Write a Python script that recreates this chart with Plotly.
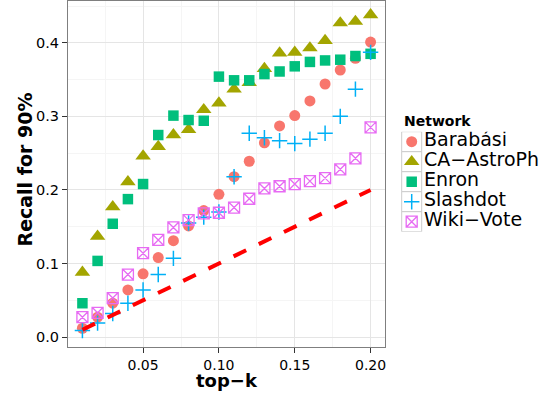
import plotly.graph_objects as go

# ---------------- data ----------------
top_k = [0.01, 0.02, 0.03, 0.04, 0.05, 0.06, 0.07, 0.08, 0.09, 0.10,
         0.11, 0.12, 0.13, 0.14, 0.15, 0.16, 0.17, 0.18, 0.19, 0.20]

barabasi = [0.012, 0.027, 0.046, 0.064, 0.086, 0.108, 0.131, 0.151, 0.172, 0.194,
            0.218, 0.239, 0.264, 0.287, 0.301, 0.321, 0.344, 0.363, 0.379, 0.401]
ca_astroph = [0.088, 0.137, 0.177, 0.211, 0.246, 0.259, 0.275, 0.282, 0.309, 0.318,
              0.337, 0.346, 0.365, 0.386, 0.387, 0.393, 0.403, 0.427, 0.429, 0.438]
enron = [0.046, 0.1035, 0.154, 0.1875, 0.208, 0.2746, 0.301, 0.295, 0.294, 0.354,
         0.349, 0.349, 0.3575, 0.361, 0.368, 0.374, 0.376, 0.377, 0.382, 0.385]
slashdot = [0.009, 0.019, 0.032, 0.046, 0.064, 0.085, 0.107, 0.155, 0.163, 0.170,
            0.218, 0.277, 0.271, 0.267, 0.263, 0.269, 0.277, 0.300, 0.337, 0.387]
wiki_vote = [0.027, 0.033, 0.053, 0.085, 0.114, 0.132, 0.149, 0.159, 0.168, 0.169,
             0.176, 0.188, 0.202, 0.205, 0.208, 0.212, 0.216, 0.228, 0.243, 0.285]

baseline_x = [0.01, 0.20]
baseline_y = [0.01, 0.20]

network_names = ["Barabási", "CA\u2212AstroPh", "Enron", "Slashdot", "Wiki\u2212Vote"]
series_values = [barabasi, ca_astroph, enron, slashdot, wiki_vote]

x_tick_vals = [0.05, 0.10, 0.15, 0.20]
x_tick_text = ["0.05", "0.10", "0.15", "0.20"]
y_tick_vals = [0.0, 0.1, 0.2, 0.3, 0.4]
y_tick_text = ["0.0", "0.1", "0.2", "0.3", "0.4"]
x_minor_vals = [0.025, 0.075, 0.125, 0.175]
y_minor_vals = [0.05, 0.15, 0.25, 0.35, 0.45]

# ---------------- styles ----------------
marker_styles = [
    dict(symbol="circle", size=11, color="#F8766D", line=dict(width=0)),
    dict(symbol="triangle-up", size=13.5, color="#A3A500", line=dict(width=0)),
    dict(symbol="square", size=10.5, color="#00BF7D", line=dict(width=0)),
    dict(symbol="cross-thin-open", size=11, color="#00B0F6", line=dict(width=1.5, color="#00B0F6")),
    dict(symbol="square-x-open", size=11, color="#E76BF3", line=dict(width=1.3, color="#E76BF3")),
]

FONT = "DejaVu Sans"

fig = go.Figure()

for name, vals, ms in zip(network_names, series_values, marker_styles):
    fig.add_trace(go.Scatter(x=top_k, y=vals, mode="markers", name=name,
                             marker=ms, showlegend=False))

fig.add_trace(go.Scatter(x=baseline_x, y=baseline_y, mode="lines",
                         line=dict(color="#FF0000", width=4, dash="14px,14px"),
                         showlegend=False))

# ---------------- custom legend (on an auxiliary axis) ----------------
fig.add_trace(go.Scatter(x=[11.7] * len(network_names), y=network_names, mode="markers",
                         marker=dict(symbol="square", size=20, color="white",
                                     line=dict(width=1, color="#CCCCCC")),
                         xaxis="x2", yaxis="y2", showlegend=False, hoverinfo="skip"))
for name, ms in zip(network_names, marker_styles):
    fig.add_trace(go.Scatter(x=[11.7], y=[name], mode="markers", marker=ms,
                             xaxis="x2", yaxis="y2", showlegend=False, hoverinfo="skip"))
fig.add_trace(go.Scatter(x=[24] * len(network_names), y=network_names, mode="text",
                         text=network_names, textposition="middle right",
                         textfont=dict(family=FONT, size=19, color="black"),
                         xaxis="x2", yaxis="y2", showlegend=False, hoverinfo="skip"))

W, H = 560, 396
ML, MR, MT, MB = 68, 10, 1, 49
PW = W - ML - MR
PH = H - MT - MB

def px_to_paper_x(px):
    return (px - ML) / PW

def py_to_paper_y(py):
    return (H - MB - py) / PH

axis_font = dict(family=FONT, size=14, color="black")

fig.update_layout(
    width=W, height=H,
    margin=dict(l=ML, r=MR, t=MT, b=MB, pad=0, autoexpand=False),
    paper_bgcolor="white", plot_bgcolor="white",
    showlegend=False,
    xaxis=dict(
        domain=[0, px_to_paper_x(385)],
        range=[0.0005, 0.2095],
        automargin=False,
        tickvals=x_tick_vals, ticktext=x_tick_text,
        tickfont=axis_font,
        showgrid=True, gridcolor="#E5E5E5", gridwidth=1,
        minor=dict(tickvals=x_minor_vals, showgrid=True, gridcolor="#F5F5F5", gridwidth=1, ticklen=0),
        ticks="outside", ticklen=5, tickcolor="#333333", tickwidth=1,
        showline=True, linecolor="#7F7F7F", linewidth=1, mirror=True,
        zeroline=False,
        tickprefix="<b>", ticksuffix="</b>",
    ),
    yaxis=dict(
        domain=[0, 1],
        range=[-0.0135, 0.4568],
        automargin=False,
        tickvals=y_tick_vals, ticktext=y_tick_text,
        tickfont=dict(family=FONT, size=14.5, color="black"),
        showgrid=True, gridcolor="#E5E5E5", gridwidth=1,
        minor=dict(tickvals=y_minor_vals, showgrid=True, gridcolor="#F5F5F5", gridwidth=1, ticklen=0),
        ticks="outside", ticklen=5, tickcolor="#333333", tickwidth=1,
        showline=True, linecolor="#7F7F7F", linewidth=1, mirror=True,
        zeroline=False,
        tickprefix="<b>", ticksuffix="</b>",
    ),
    xaxis2=dict(
        domain=[px_to_paper_x(400), 1.0],
        range=[0, 150],
        visible=False, fixedrange=True, automargin=False,
    ),
    yaxis2=dict(
        domain=[py_to_paper_y(231.7), py_to_paper_y(131.7)],
        type="category", categoryorder="array", categoryarray=network_names,
        range=[4.5, -0.5],
        visible=False, fixedrange=True, automargin=False,
        anchor="x2",
    ),
    annotations=[
        dict(text="<b>Network</b>", xref="paper", yref="paper",
             x=px_to_paper_x(402), y=py_to_paper_y(121.3),
             xanchor="left", yanchor="middle", showarrow=False,
             font=dict(family=FONT, size=14, color="black")),
        dict(text="<b>top\u2212k</b>", xref="paper", yref="paper",
             x=px_to_paper_x(226.5), y=py_to_paper_y(380.5),
             xanchor="center", yanchor="middle", showarrow=False,
             font=dict(family=FONT, size=18, color="black")),
        dict(text="<b>Recall for 90%</b>", xref="paper", yref="paper",
             x=px_to_paper_x(24.5), y=py_to_paper_y(170),
             xanchor="center", yanchor="middle", showarrow=False,
             textangle=-90, font=dict(family=FONT, size=19, color="black")),
    ],
)

fig.write_html("out.html", config={"displayModeBar": False},
               post_script="document.body.style.margin='0px';document.body.style.overflow='hidden';")
